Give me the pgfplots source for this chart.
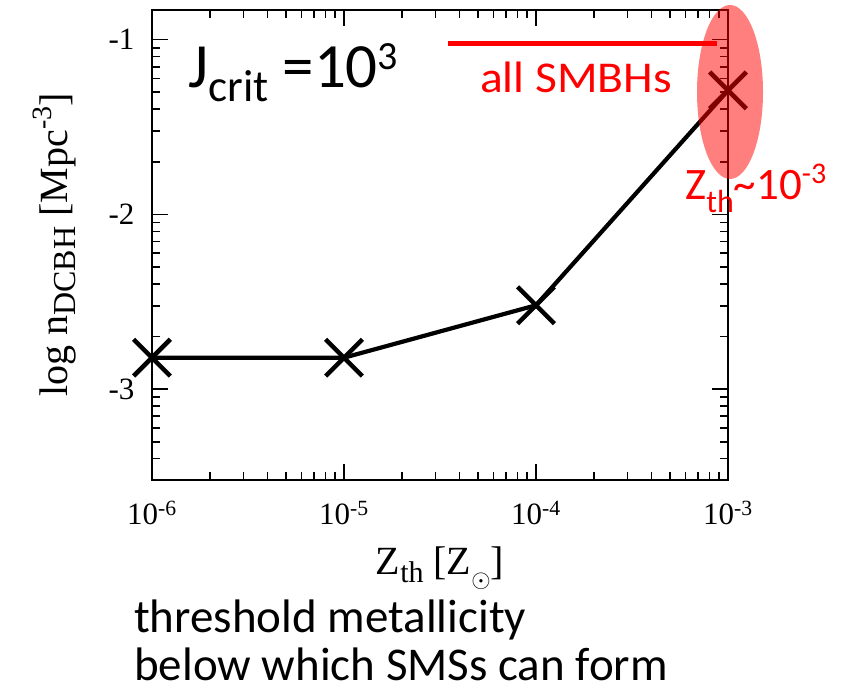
\documentclass[border=0pt]{standalone}
\usepackage{fontspec}
\setmainfont{Liberation Serif}
\newfontfamily\calfont{Carlito}
\usepackage{graphicx}
\usepackage{pgfplots}
\pgfplotsset{compat=1.18}
\begin{document}
\begin{tikzpicture}[x=1pt,y=1pt]
\begin{axis}[
  at={(152pt,213pt)}, anchor=south west,
  scale only axis, width=576pt, height=470pt,
  xmode=log, xmin=1e-6, xmax=1e-3,
  ymin=-3.52, ymax=-0.83,
  xtick={1e-6,1e-5,1e-4,1e-3},
  xticklabels={10\textsuperscript{-6},10\textsuperscript{-5},10\textsuperscript{-4},10\textsuperscript{-3}},
  ytick={-3,-2,-1}, yticklabels={-3,-2,-1},
  minor ytick={-3.398,-3.301,-3.222,-3.155,-3.097,-3.046,
               -2.699,-2.523,-2.398,-2.301,-2.222,-2.155,-2.097,-2.046,
               -1.699,-1.523,-1.398,-1.301,-1.222,-1.155,-1.097,-1.046},
  tick align=inside,
  major tick length=16pt, minor tick length=8pt,
  every tick/.style={black, line width=1.6pt},
  axis line style={line width=2.6pt},
  tick label style={font=\fontsize{31}{36}\selectfont},
  xticklabel style={yshift=-18pt},
  yticklabel style={xshift=-14pt},
  xlabel={\fontsize{40}{46}\selectfont Z\raisebox{-8pt}{\fontsize{30}{36}\selectfont th} [Z\raisebox{-13pt}{\fontsize{40}{46}\selectfont$\odot$}]},
  ylabel={\fontsize{40}{46}\selectfont log n\raisebox{-8pt}{\fontsize{32}{36}\selectfont DCBH} [Mpc\raisebox{16pt}{\fontsize{28}{32}\selectfont -3}]},
  xlabel style={at={(axis description cs:0.5,-0.202)}, anchor=base},
  ylabel style={at={(axis description cs:-0.17,0.5)}, anchor=center},
  clip=false,
]
\addplot[black, line width=4.2pt, mark=x, mark size=26pt, mark options={line width=4.5pt, solid}]
  coordinates {(1e-6,-2.82) (1e-5,-2.82) (1e-4,-2.52) (1e-3,-1.29)};
\end{axis}
% annotations
\fill[red, opacity=0.5] (730,601) ellipse [x radius=33, y radius=87];
\draw[red, line width=5.5pt] (448,649.5) -- (717,649.5);
\node[anchor=base west, inner sep=0, text=red, font=\calfont\fontsize{44}{50}\selectfont] at (480,600) {\scalebox{1.08}[1]{all SMBHs}};
\node[anchor=base west, inner sep=0, text=red, font=\calfont\fontsize{45}{50}\selectfont] at (685,493) {Z\raisebox{-13pt}{\fontsize{32}{36}\selectfont th}\textasciitilde10\raisebox{16pt}{\fontsize{30}{36}\selectfont -3}};
\node[anchor=base west, inner sep=0, font=\calfont\fontsize{63}{70}\selectfont] at (188,605) {J\raisebox{-14pt}{\fontsize{45}{50}\selectfont crit} =10\raisebox{18pt}{\fontsize{40}{46}\selectfont 3}};
\node[anchor=base west, inner sep=0, font=\calfont\fontsize{47}{52}\selectfont] at (134,61) {threshold metallicity};
\node[anchor=base west, inner sep=0, font=\calfont\fontsize{47}{52}\selectfont] at (134,13) {below which SMSs can form};
\pgfresetboundingbox
\path (0,0) rectangle (845,693);
\end{tikzpicture}
\end{document}
